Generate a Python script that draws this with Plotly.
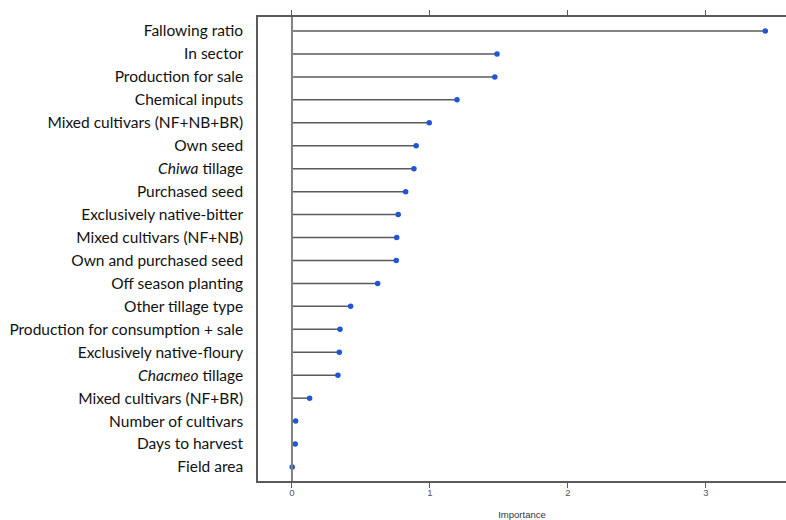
import plotly.graph_objects as go

variables = [
    "Fallowing ratio", "In sector", "Production for sale", "Chemical inputs",
    "Mixed cultivars (NF+NB+BR)", "Own seed", "<i>Chiwa</i> tillage", "Purchased seed",
    "Exclusively native-bitter", "Mixed cultivars (NF+NB)", "Own and purchased seed",
    "Off season planting", "Other tillage type", "Production for consumption + sale",
    "Exclusively native-floury", "<i>Chacmeo</i> tillage", "Mixed cultivars (NF+BR)",
    "Number of cultivars", "Days to harvest", "Field area",
]
importance = [3.43, 1.486, 1.47, 1.196, 0.995, 0.90, 0.884, 0.824, 0.77, 0.759,
              0.756, 0.621, 0.425, 0.348, 0.343, 0.333, 0.128, 0.027, 0.024, 0.002]
x_ticks = [0, 1, 2, 3]

ypos = list(range(len(variables)))

stem_x, stem_y = [], []
for v, y in zip(importance, ypos):
    stem_x += [0, v, None]
    stem_y += [y, y, None]

fig = go.Figure()
fig.add_trace(go.Scatter(x=stem_x, y=stem_y, mode="lines",
                         line=dict(color="#5a5a5a", width=1.5), hoverinfo="skip"))
fig.add_trace(go.Scatter(x=importance, y=ypos, mode="markers",
                         marker=dict(color="#1f56d6", size=5.5)))
# invisible trace for top axis ticks
fig.add_trace(go.Scatter(x=[0], y=[0], xaxis="x2", mode="markers",
                         marker=dict(opacity=0), hoverinfo="skip"))

fig.add_vline(x=0, line=dict(color="#808080", width=2))

fig.update_layout(
    width=786, height=520,
    margin=dict(l=258, r=0, t=17, b=39),
    paper_bgcolor="white", plot_bgcolor="white",
    showlegend=False,
    font=dict(family="Lato", color="#111"),
    xaxis=dict(
        range=[-0.246, 3.58], tickvals=x_ticks, ticktext=[str(t) for t in x_ticks],
        showgrid=False, zeroline=False,
        showline=True, linecolor="#5a5a5a", linewidth=1.5,
        ticks="outside", ticklen=5, tickcolor="#5a5a5a", tickwidth=1,
        ticklabelstandoff=-3,
        tickfont=dict(family="Liberation Sans", size=9.5, color="#555"),
        title=dict(text="Importance", font=dict(family="Liberation Sans", size=9.5, color="#333"),
                   standoff=14),
    ),
    xaxis2=dict(
        overlaying="x", side="top", range=[-0.246, 3.58], tickvals=x_ticks,
        showticklabels=False, showgrid=False, zeroline=False,
        showline=True, linecolor="#5a5a5a", linewidth=1.5,
        ticks="outside", ticklen=5, tickcolor="#5a5a5a", tickwidth=1,
    ),
    yaxis=dict(
        range=[len(variables) - 1 + 0.61, -0.61],
        tickvals=ypos, ticktext=variables,
        showgrid=False, zeroline=False,
        showline=True, linecolor="#5a5a5a", linewidth=1.5,
        ticks="", ticklabelstandoff=10,
        tickfont=dict(family="Lato", size=15.5, color="#111"),
    ),
)

fig.write_html("out.html")
